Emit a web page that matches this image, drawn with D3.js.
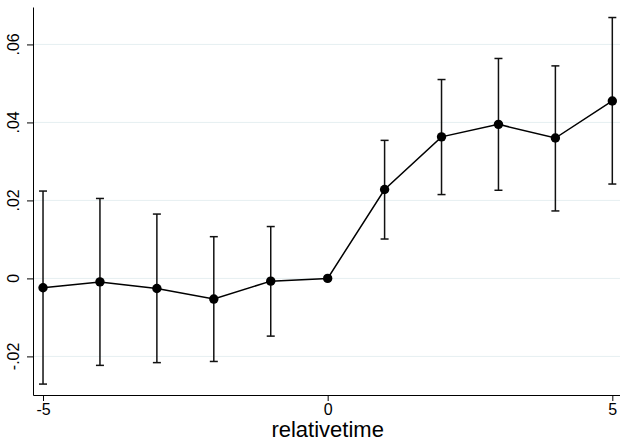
<!DOCTYPE html>
<html>
<head>
<meta charset="utf-8">
<script src="https://cdn.jsdelivr.net/npm/d3@7"></script>
<style>
  body { margin: 0; background: #fff; }
  svg { display: block; font-family: "Liberation Sans", Arial, sans-serif; }
</style>
</head>
<body>
<div id="chart"></div>
<script>
// data
var relTime = [-5, -4, -3, -2, -1, 0, 1, 2, 3, 4, 5];
var coef    = [-0.0024, -0.0009, -0.0026, -0.0053, -0.0007, 0, 0.0228, 0.0363, 0.0395, 0.0360, 0.0455];
var ciLow   = [-0.0271, -0.0223, -0.0216, -0.0213, -0.0148, 0, 0.0101, 0.0215, 0.0226, 0.0173, 0.0242];
var ciHigh  = [0.0224, 0.0205, 0.0165, 0.0107, 0.0133, 0, 0.0354, 0.0510, 0.0564, 0.0545, 0.0669];
var yTicks  = [-0.02, 0, 0.02, 0.04, 0.06];
var yLabels = ["-.02", "0", ".02", ".04", ".06"];
var xTicks  = [-5, 0, 5];

var width = 620, height = 441;
var margin = {top: 7, right: 0, bottom: 46, left: 33};

var svg = d3.select("#chart")
  .append("svg")
    .attr("width", width)
    .attr("height", height);

// scales
var x = d3.scaleLinear()
  .domain([-5.176, 5.135])
  .range([margin.left, width - margin.right]);
var y = d3.scaleLinear()
  .domain([-0.0299, 0.0696])
  .range([height - margin.bottom, margin.top]);

// gridlines
svg.append("g")
  .selectAll("line")
  .data(yTicks)
  .enter()
  .append("line")
    .attr("x1", margin.left)
    .attr("x2", width)
    .attr("y1", function(d) { return y(d); })
    .attr("y2", function(d) { return y(d); })
    .attr("stroke", "#e6eff1")
    .attr("stroke-width", 1);

// y axis
var yAxis = svg.append("g")
  .attr("transform", "translate(" + margin.left + ",0)")
  .call(d3.axisLeft(y).tickValues(yTicks)
    .tickFormat(function(d, i) { return yLabels[i]; })
    .tickSize(6).tickSizeOuter(0));
yAxis.selectAll("text").remove();
yAxis.selectAll("line").attr("stroke", "#000");
yAxis.select(".domain").attr("stroke", "#000");

// rotated y tick labels
svg.append("g")
  .selectAll("text")
  .data(yTicks)
  .enter()
  .append("text")
    .attr("transform", function(d) { return "translate(18.5," + y(d) + ") rotate(-90)"; })
    .attr("text-anchor", "middle")
    .style("font-size", "16px")
    .text(function(d, i) { return yLabels[i]; });

// x axis
var xAxis = svg.append("g")
  .attr("transform", "translate(0," + (height - margin.bottom) + ")")
  .call(d3.axisBottom(x).tickValues(xTicks).tickSize(6).tickSizeOuter(0)
    .tickFormat(function(d) { return d; }));
xAxis.selectAll("line").attr("stroke", "#000");
xAxis.select(".domain").attr("stroke", "#000");
xAxis.selectAll("text")
  .attr("fill", "#000")
  .style("font-size", "16px")
  .style("font-family", "Liberation Sans, Arial, sans-serif");

svg.append("text")
  .attr("x", x(0))
  .attr("y", 437)
  .attr("text-anchor", "middle")
  .style("font-size", "22px")
  .text("relativetime");

// error bars
var bars = svg.append("g");
var idx = d3.range(relTime.length).filter(function(i) { return ciHigh[i] !== ciLow[i]; });
bars.selectAll(".stem")
  .data(idx)
  .enter()
  .append("line")
    .attr("x1", function(i) { return x(relTime[i]); })
    .attr("x2", function(i) { return x(relTime[i]); })
    .attr("y1", function(i) { return y(ciLow[i]); })
    .attr("y2", function(i) { return y(ciHigh[i]); })
    .attr("stroke", "#111")
    .attr("stroke-width", 1.5);
[ciLow, ciHigh].forEach(function(arr) {
  bars.selectAll(null)
    .data(idx)
    .enter()
    .append("line")
      .attr("x1", function(i) { return x(relTime[i]) - 4; })
      .attr("x2", function(i) { return x(relTime[i]) + 4; })
      .attr("y1", function(i) { return y(arr[i]); })
      .attr("y2", function(i) { return y(arr[i]); })
      .attr("stroke", "#111")
      .attr("stroke-width", 1.5);
});

// connecting line
var line = d3.line()
  .x(function(d, i) { return x(relTime[i]); })
  .y(function(d) { return y(d); });
svg.append("path")
  .datum(coef)
  .attr("d", line)
  .attr("fill", "none")
  .attr("stroke", "#000")
  .attr("stroke-width", 1.5);

// points
svg.append("g")
  .selectAll("circle")
  .data(coef)
  .enter()
  .append("circle")
    .attr("cx", function(d, i) { return x(relTime[i]); })
    .attr("cy", function(d) { return y(d); })
    .attr("r", 4.7)
    .attr("fill", "#000");
</script>
</body>
</html>
